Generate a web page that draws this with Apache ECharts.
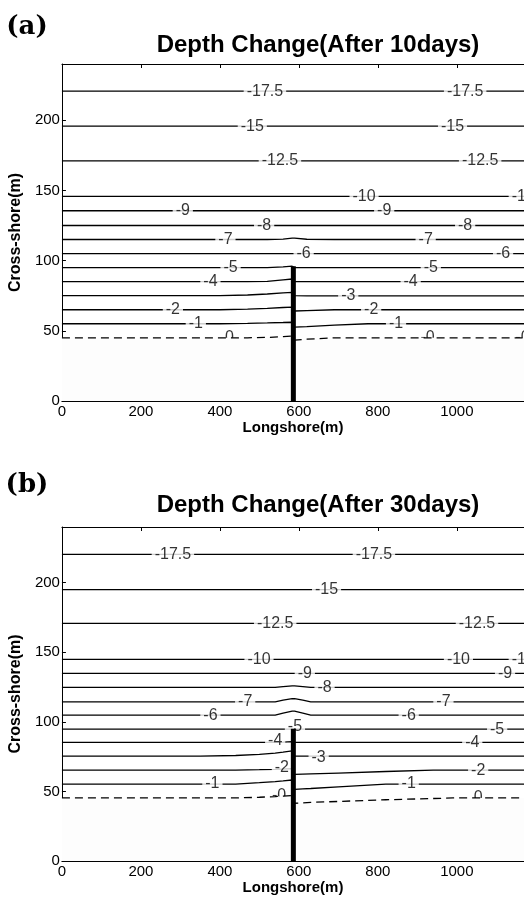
<!DOCTYPE html>
<html><head><meta charset="utf-8">
<script src="https://cdn.jsdelivr.net/npm/echarts@6/dist/echarts.min.js"></script>
<style>html,body{margin:0;padding:0;background:#fff}#c{width:524px;height:899px}</style>
</head><body><div id="c"></div>
<script>
// ---- data ----
const levels = [0, -1, -2, -3, -4, -5, -6, -7, -8, -9, -10, -12.5, -15, -17.5];
const xTicks = [0, 200, 400, 600, 800, 1000];
const yTicks = [0, 50, 100, 150, 200];
const titles = ['Depth Change(After 10days)', 'Depth Change(After 30days)'];
const panelTags = ['(a)', '(b)'];

// Panel (a): after 10 days. Cross-shore position of each contour along longshore samples
const xGridA = [0, 300, 400, 470, 520, 560, 583, 589, 620, 690, 775, 900, 1170];
const depthA = [
  [45, 45, 45, 45, 45.3, 45.8, 46.2, 43.4, 44, 45, 45, 45, 45],
  [55, 55, 55, 55.3, 55.6, 55.9, 56.1, 52.6, 53, 54, 55, 55, 55],
  [65, 65, 65, 65.5, 66, 66.6, 66.9, 64.1, 64.4, 65, 65, 65, 65],
  [75, 75, 75, 75.5, 76.2, 77, 77.4, 75, 74.8, 74.8, 74.8, 74.8, 74.8],
  [85, 85, 85, 85, 85.2, 86.3, 86.9, 85, 85, 85, 85, 85, 85],
  [95, 95, 95, 95, 95, 95.5, 96, 95, 95, 95, 95, 95, 95],
  [105, 105, 105, 105, 105, 105, 105, 105, 105, 105, 105, 105, 105],
  [115, 115, 115, 115, 115, 115.3, 116, 116, 115.2, 115, 115, 115, 115],
  [125, 125, 125, 125, 125, 125, 125, 125, 125, 125, 125, 125, 125],
  [135.5, 135.5, 135.5, 135.5, 135.5, 135.5, 135.5, 135.5, 135.5, 135.5, 135.5, 135.5, 135.5],
  [145.7, 145.7, 145.7, 145.7, 145.7, 145.7, 145.7, 145.7, 145.7, 145.7, 145.7, 145.7, 145.7],
  [171, 171, 171, 171, 171, 171, 171, 171, 171, 171, 171, 171, 171],
  [195.7, 195.7, 195.7, 195.7, 195.7, 195.7, 195.7, 195.7, 195.7, 195.7, 195.7, 195.7, 195.7],
  [220.7, 220.7, 220.7, 220.7, 220.7, 220.7, 220.7, 220.7, 220.7, 220.7, 220.7, 220.7, 220.7]
];
const labelsA = [
  [514, 220.7, '-17.5'], [1021, 220.7, '-17.5'],
  [482, 195.7, '-15'], [989, 195.7, '-15'],
  [552, 171, '-12.5'], [1059, 171, '-12.5'],
  [765, 145.7, '-10'], [1168, 145.7, '-10'],
  [306, 135.5, '-9'], [816, 135.5, '-9'],
  [512, 125, '-8'], [1021, 125, '-8'],
  [414, 115, '-7'], [921, 115, '-7'],
  [612, 105, '-6'], [1117, 105, '-6'],
  [427, 95, '-5'], [934, 95, '-5'],
  [376, 85, '-4'], [883, 85, '-4'],
  [725, 75, '-3'],
  [281, 65, '-2'], [783, 65, '-2'],
  [339, 55, '-1'], [846, 55, '-1'],
  [424, 45, '0'], [926, 45, '-0'], [1166, 45, '-0']
];
const groinA = [[586, 0], [586, 96]];

// Panel (b): after 30 days
const xGridB = [0, 350, 440, 500, 540, 560, 583, 589, 610, 630, 700, 820, 940, 990, 1170];
const depthB = [
  [45.3, 45.3, 45.3, 45.8, 46.3, 46.6, 47, 41.5, 41.8, 42.1, 42.8, 44, 44.9, 45.3, 45.3],
  [55.3, 55.3, 55.3, 56.3, 57.1, 57.6, 58.2, 51.5, 51.8, 52.1, 53.3, 55.3, 55.3, 55.3, 55.3],
  [65.3, 65.3, 65.3, 65.6, 65.9, 66.1, 66.4, 62.2, 62.4, 62.6, 63.2, 64.3, 65.3, 65.3, 65.3],
  [75.3, 75.3, 75.8, 76.6, 77.5, 78.2, 79.1, 75.3, 75.3, 75.3, 75.3, 75.3, 75.3, 75.3, 75.3],
  [85.2, 85.2, 85.2, 85.2, 85.2, 85.4, 85.8, 85.2, 85.2, 85.2, 85.2, 85.2, 85.2, 85.2, 85.2],
  [94.7, 94.7, 94.7, 94.7, 94.7, 94.7, 94.7, 94.7, 94.7, 94.7, 94.7, 94.7, 94.7, 94.7, 94.7],
  [104.8, 104.8, 104.8, 104.8, 104.8, 106.3, 107.7, 107.7, 106.3, 104.8, 104.8, 104.8, 104.8, 104.8, 104.8],
  [114.4, 114.4, 114.4, 114.4, 114.4, 115.6, 116.6, 116.6, 115.6, 114.4, 114.4, 114.4, 114.4, 114.4, 114.4],
  [124.7, 124.7, 124.7, 124.7, 124.7, 125.3, 125.9, 125.9, 125.3, 124.7, 124.7, 124.7, 124.7, 124.7, 124.7],
  [134.8, 134.8, 134.8, 134.8, 134.8, 134.8, 134.8, 134.8, 134.8, 134.8, 134.8, 134.8, 134.8, 134.8, 134.8],
  [144.9, 144.9, 144.9, 144.9, 144.9, 144.9, 144.9, 144.9, 144.9, 144.9, 144.9, 144.9, 144.9, 144.9, 144.9],
  [170.8, 170.8, 170.8, 170.8, 170.8, 170.8, 170.8, 170.8, 170.8, 170.8, 170.8, 170.8, 170.8, 170.8, 170.8],
  [195, 195, 195, 195, 195, 195, 195, 195, 195, 195, 195, 195, 195, 195, 195],
  [220.4, 220.4, 220.4, 220.4, 220.4, 220.4, 220.4, 220.4, 220.4, 220.4, 220.4, 220.4, 220.4, 220.4, 220.4]
];
const labelsB = [
  [281, 220.4, '-17.5'], [790, 220.4, '-17.5'],
  [670, 195, '-15'],
  [540, 170.8, '-12.5'], [1051, 170.8, '-12.5'],
  [499, 144.9, '-10'], [1004, 144.9, '-10'], [1168, 144.9, '-10'],
  [615, 134.8, '-9'], [1122, 134.8, '-9'],
  [665, 124.7, '-8'],
  [464, 114.4, '-7'], [966, 114.4, '-7'],
  [376, 104.8, '-6'], [878, 104.8, '-6'],
  [590, 96.3, '-5'], [1102, 94.7, '-5'],
  [540, 86.8, '-4'], [1039, 85.2, '-4'],
  [650, 74.6, '-3'],
  [557, 67.4, '-2'], [1054, 65.3, '-2'],
  [381, 55.3, '-1'], [878, 55.3, '-1'],
  [550, 47, '-0'], [1054, 45.3, '0']
];
const groinB = [[586, 0], [586, 95]];

// ---- chart ----
const FONT = "'Liberation Sans', Arial, Helvetica, sans-serif";
const grids = [
  { left: 58, top: 64, width: 466, height: 337 },
  { left: 58, top: 527, width: 466, height: 334 }
];
const panels = [
  { xg: xGridA, d: depthA, lab: labelsA, groin: groinA },
  { xg: xGridB, d: depthB, lab: labelsB, groin: groinB }
];

const xAxes = [], yAxes = [], series = [];
panels.forEach((p, g) => {
  const common = {
    type: 'value', min: 0, max: 1170, interval: 200, gridIndex: g,
    splitLine: { show: false },
    axisLine: { show: true, onZero: false, lineStyle: { color: '#000', width: 1 } },
    axisTick: { show: true, inside: true, length: 4, lineStyle: { color: '#000' } }
  };
  xAxes.push(Object.assign({}, common, {
    position: 'bottom',
    name: 'Longshore(m)', nameLocation: 'middle', nameGap: 19,
    nameTextStyle: { fontFamily: FONT, fontWeight: 'bold', fontSize: 15, color: '#000' },
    axisLabel: {
      show: true, margin: 3, fontFamily: FONT, fontSize: 15, color: '#000',
      showMaxLabel: false,
      formatter: v => (xTicks.indexOf(v) >= 0 ? String(v) : '')
    }
  }));
  xAxes.push(Object.assign({}, common, {
    position: 'top', axisLabel: { show: false }
  }));
  yAxes.push({
    type: 'value', min: 0, max: 240, interval: 50, gridIndex: g, position: 'left',
    splitLine: { show: false },
    axisLine: { show: true, onZero: false, lineStyle: { color: '#000', width: 1 } },
    axisTick: { show: true, inside: true, length: 4, lineStyle: { color: '#000' } },
    name: 'Cross-shore(m)', nameLocation: 'middle', nameGap: 32,
    nameTextStyle: { fontFamily: FONT, fontWeight: 'bold', fontSize: 16, color: '#000' },
    axisLabel: {
      show: true, margin: 2, fontFamily: FONT, fontSize: 15, color: '#000',
      showMaxLabel: false,
      formatter: v => (yTicks.indexOf(v) >= 0 ? String(v) : '')
    }
  });

  const xi = g * 2, yi = g;
  levels.forEach((lv, i) => {
    const pts = p.xg.map((x, j) => [x, p.d[i][j]]);
    series.push({
      type: 'line', xAxisIndex: xi, yAxisIndex: yi, data: pts,
      showSymbol: false, symbol: 'none', silent: true, animation: false,
      z: lv === 0 ? 5 : 2,
      lineStyle: { color: '#000', width: 1.3, type: lv === 0 ? [8, 5] : 'solid' }
    });
    if (lv === 0) {
      // land (shore) patch below the zero contour
      series.push({
        type: 'line', xAxisIndex: xi, yAxisIndex: yi, data: pts,
        showSymbol: false, symbol: 'none', silent: true, animation: false, z: 4,
        lineStyle: { width: 0, opacity: 0 },
        areaStyle: { color: '#fdfdfd', opacity: 1 }
      });
    }
  });
  // contour labels
  series.push({
    type: 'scatter', xAxisIndex: xi, yAxisIndex: yi, silent: true, animation: false, z: 3,
    symbolSize: 0,
    data: p.lab.map(l => ({ value: [l[0], l[1]], name: l[2] })),
    label: {
      show: true, position: 'inside', formatter: '{b}',
      fontFamily: FONT, fontSize: 16, color: '#000',
      backgroundColor: '#fff', padding: [0, 3], lineHeight: 12
    },
    labelLayout: { hideOverlap: false }
  });
  // groin
  series.push({
    type: 'line', xAxisIndex: xi, yAxisIndex: yi, data: p.groin,
    showSymbol: false, symbol: 'none', silent: true, animation: false, z: 6,
    lineStyle: { color: '#000', width: 5, cap: 'butt' }
  });
});

const graphic = [
  { type: 'text', x: 27, y: 27, style: { text: panelTags[0], font: "bold 26px 'DejaVu Serif', serif", fill: '#000', align: 'center', verticalAlign: 'middle', textAlign: 'center', textVerticalAlign: 'middle' } },
  { type: 'text', x: 318, y: 45, style: { text: titles[0], font: "bold 24px " + FONT, fill: '#000', align: 'center', verticalAlign: 'middle', textAlign: 'center', textVerticalAlign: 'middle' } },
  { type: 'text', x: 27, y: 485, style: { text: panelTags[1], font: "bold 26px 'DejaVu Serif', serif", fill: '#000', align: 'center', verticalAlign: 'middle', textAlign: 'center', textVerticalAlign: 'middle' } },
  { type: 'text', x: 318, y: 505, style: { text: titles[1], font: "bold 24px " + FONT, fill: '#000', align: 'center', verticalAlign: 'middle', textAlign: 'center', textVerticalAlign: 'middle' } }
];

const chart = echarts.init(document.getElementById('c'), null, { renderer: 'canvas' });
chart.setOption({
  animation: false,
  backgroundColor: '#fff',
  grid: grids,
  xAxis: xAxes,
  yAxis: yAxes,
  series: series,
  graphic: graphic
});
</script></body></html>
